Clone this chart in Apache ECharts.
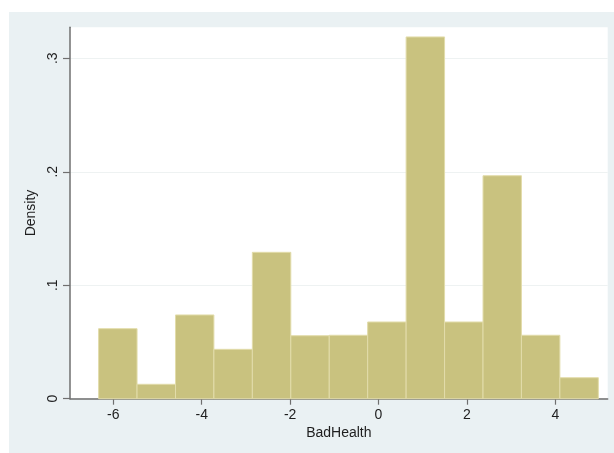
<!DOCTYPE html>
<html>
<head>
<meta charset="utf-8">
<script src="https://cdn.jsdelivr.net/npm/echarts@6/dist/echarts.min.js"></script>
<style>
html,body{margin:0;padding:0;background:#ffffff;width:614px;height:453px;overflow:hidden;}
#chart{position:absolute;left:9px;top:12px;width:605px;height:441px;}
</style>
</head>
<body>
<div id="chart"></div>
<script>
// Bin edges (BadHealth) and densities
const binEdges = [-6.333, -5.463, -4.593, -3.724, -2.854, -1.984, -1.114, -0.245, 0.625, 1.495, 2.365, 3.234, 4.104, 4.974];
const densities = [0.0617, 0.0127, 0.0738, 0.0435, 0.1290, 0.0555, 0.0559, 0.0676, 0.3188, 0.0676, 0.1965, 0.0559, 0.0185];
const xTicks = [-6, -4, -2, 0, 2, 4];
const yTicks = [0, 0.1, 0.2, 0.3];
const xTitle = 'BadHealth';
const yTitle = 'Density';

const data = densities.map((d, i) => [binEdges[i], binEdges[i + 1], d]);

const font = 'Liberation Sans, Arial, Helvetica, sans-serif';
const chart = echarts.init(document.getElementById('chart'), null, {renderer: 'canvas'});
chart.setOption({
  backgroundColor: '#EAF1F3',
  animation: false,
  grid: {left: 61, top: 15.3, right: 6.3, bottom: 54.3, show: true, backgroundColor: '#ffffff', borderWidth: 0},
  xAxis: {
    type: 'value', min: -6.98, max: 5.186,
    name: xTitle, nameLocation: 'middle', nameGap: 27,
    nameTextStyle: {fontFamily: font, fontSize: 14, color: '#1e1e1e'},
    axisLine: {show: true, onZero: false, lineStyle: {color: '#6f6f6f', width: 1.5}},
    axisTick: {show: true, length: 6, lineStyle: {color: '#6f6f6f', width: 1.2}, customValues: xTicks},
    axisLabel: {fontFamily: font, fontSize: 14, color: '#1e1e1e', margin: 9, customValues: xTicks,
      formatter: v => String(v)},
    splitLine: {show: false}
  },
  yAxis: {
    type: 'value', min: 0, max: 0.3273,
    name: yTitle, nameLocation: 'middle', nameGap: 29, nameRotate: 90,
    nameTextStyle: {fontFamily: font, fontSize: 14, color: '#1e1e1e'},
    axisLine: {show: true, onZero: false, lineStyle: {color: '#6f6f6f', width: 1.5}},
    axisTick: {show: true, length: 7, lineStyle: {color: '#6f6f6f', width: 1.2}, customValues: yTicks},
    axisLabel: {fontFamily: font, fontSize: 14, color: '#1e1e1e', margin: 10, rotate: 90, customValues: yTicks,
      formatter: v => v === 0 ? '0' : String(Math.round(v * 10) / 10).replace(/^0/, '')},
    splitLine: {show: true, lineStyle: {color: '#EEF2F2', width: 1.2}, customValues: yTicks}
  },
  series: [{
    type: 'custom',
    data: data,
    encode: {x: [0, 1], y: 2},
    renderItem: function (params, api) {
      const p0 = api.coord([api.value(0), api.value(2)]);
      const p1 = api.coord([api.value(1), 0]);
      return {
        type: 'rect',
        shape: {x: p0[0], y: p0[1], width: p1[0] - p0[0], height: p1[1] - p0[1]},
        style: {fill: '#C9C27F', stroke: '#E2DCAA', lineWidth: 1}
      };
    }
  }]
});
</script>
</body>
</html>
